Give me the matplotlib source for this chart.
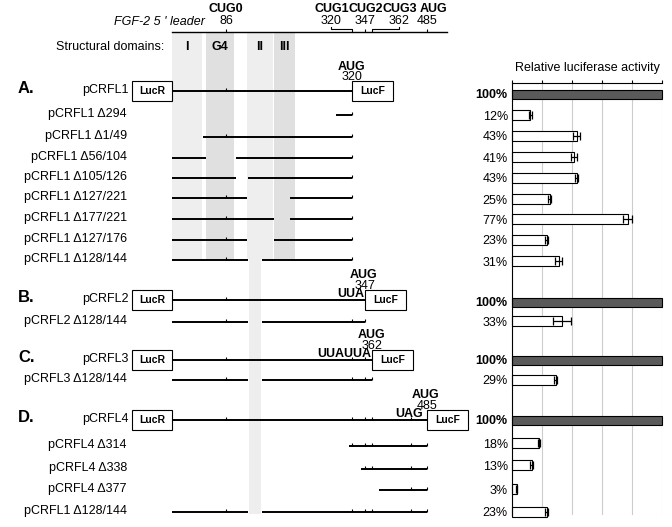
import numpy as np
import matplotlib.pyplot as plt

plt.rcParams['font.family'] = ['Liberation Sans', 'DejaVu Sans']

# nucleotide landmarks of the FGF-2 leader and where they fall on the (non-linear) schematic
nt_knots = [1, 86, 127, 145, 177, 222, 320, 347, 362, 485]
x_knots = [172, 226, 248, 262, 274, 290, 352, 365, 372, 427]


def xmap(nt):
    return np.interp(nt, nt_knots, x_knots)


# constructs (rows), top to bottom
names = ["pCRFL1", "pCRFL1 Δ294", "pCRFL1 Δ1/49", "pCRFL1 Δ56/104",
         "pCRFL1 Δ105/126", "pCRFL1 Δ127/221", "pCRFL1 Δ177/221",
         "pCRFL1 Δ127/176", "pCRFL1 Δ128/144",
         "pCRFL2", "pCRFL2 Δ128/144",
         "pCRFL3", "pCRFL3 Δ128/144",
         "pCRFL4", "pCRFL4 Δ314", "pCRFL4 Δ338", "pCRFL4 Δ377",
         "pCRFL1 Δ128/144"]
is_full = [True, False, False, False, False, False, False, False, False,
           True, False, True, False, True, False, False, False, False]
segments = [[(1, 320)], [(295, 320)], [(50, 320)], [(1, 55), (105, 320)],
            [(1, 104), (127, 320)], [(1, 126), (222, 320)], [(1, 176), (222, 320)],
            [(1, 126), (177, 320)], [(1, 127), (145, 320)],
            [(1, 347)], [(1, 127), (145, 347)],
            [(1, 362)], [(1, 127), (145, 362)],
            [(1, 485)], [(315, 485)], [(339, 485)], [(378, 485)],
            [(1, 127), (145, 485)]]
ticks = [[86], [], [86], [], [], [86], [86], [86], [86],
         [86], [86, 320],
         [86, 320, 347], [86, 320, 347],
         [86, 320, 347, 362, 450], [320, 347, 362, 450], [347, 362, 450], [450],
         [86, 320, 347, 362, 450]]
activity = [100, 12, 43, 41, 43, 25, 77, 23, 31,
            100, 33, 100, 29, 100, 18, 13, 3, 23]
errors = [0, 1, 2.5, 2, 1, 1, 3, 1, 2.5,
          0, 6, 0, 1, 0, 0.7, 0.7, 0.4, 1]

# structural domains (nt ranges)
domains = ["I", "G4", "II", "III"]
domain_nt = [(1, 48), (54, 101), (125, 174), (177, 230)]
domain_col = ['#eeeeee', '#e0e0e0', '#eeeeee', '#e0e0e0']
stem_loop_del = (128, 144)

# ruler codons
ruler_codons = ["CUG1", "CUG2", "CUG3", "AUG"]
ruler_nt = [320, 347, 362, 485]
ruler_label_x = [331, 365, 399, 427]

# start codon annotations on the full reporters: (row, nt, upstream codon)
starts = [(0, 320, ""), (9, 347, "UUA"), (11, 362, "UUAUUA"), (13, 485, "UAG")]
panel_letters = ["A.", "B.", "C.", "D."]
panel_rows = [0, 9, 11, 13]

# layout (pixel rows)
row_y = [91, 115, 137, 158, 178, 198, 219, 240, 260,
         300, 322, 360, 380, 420, 446, 469, 490, 512]
bar_y = [94, 115, 136, 157, 178, 199, 219, 240, 261,
         302, 321, 360, 380, 420, 443, 465, 489, 512]

fig = plt.figure(figsize=(6.72, 5.27), dpi=100)
ax = fig.add_axes([0, 0, 1, 1])
ax.set_xlim(0, 672)
ax.set_ylim(527, 0)
ax.axis('off')

# shaded domains
for (a, b), c in zip(domain_nt, domain_col):
    ax.fill_betweenx([32, 259], xmap(a), xmap(b), color=c, lw=0, zorder=0)
ax.fill_betweenx([259, 514], xmap(stem_loop_del[0]), xmap(stem_loop_del[1]),
                 color='#eeeeee', lw=0, zorder=0)
for name, (a, b) in zip(domains, domain_nt):
    ax.text((xmap(a) + xmap(b)) / 2, 47, name, ha='center', va='center',
            fontsize=9, fontweight='bold')
ax.text(164, 47, "Structural domains:", ha='right', va='center', fontsize=9)

# top ruler
ax.plot([172, 447], [32, 32], color='k', lw=1)
ax.text(205, 22, "FGF-2 5 ' leader", ha='right', va='center', fontsize=9,
        style='italic')
ax.vlines(xmap(86), 29, 32, color='k', lw=0.8)
ax.text(xmap(86), 9.5, "CUG0", ha='center', va='center', fontsize=9,
        fontweight='bold')
ax.text(xmap(86), 21, "86", ha='center', va='center', fontsize=9)
for lab, nt, lx in zip(ruler_codons, ruler_nt, ruler_label_x):
    x = xmap(nt)
    if abs(lx - x) > 2:
        ax.plot([lx, lx, x, x], [26.5, 29, 29, 32], color='k', lw=0.8)
    else:
        ax.vlines(x, 29, 32, color='k', lw=0.8)
    ax.text(lx + (6 if lab == "AUG" else 1), 9.5, lab, ha='center', va='center',
            fontsize=9, fontweight='bold')
    ax.text(lx, 21, str(nt), ha='center', va='center', fontsize=9)

# construct rows
for i, name in enumerate(names):
    y = row_y[i]
    for a, b in segments[i]:
        ax.plot([xmap(a), xmap(b)], [y, y], color='k', lw=1.4,
                solid_capstyle='butt')
    for t in ticks[i]:
        ax.vlines(xmap(t), y - 3.5, y, color='k', lw=0.8)
    end = xmap(segments[i][-1][1])
    if is_full[i]:
        ax.add_patch(plt.Rectangle((132, y - 10), 40, 20, fc='white', ec='k', lw=0.8))
        ax.text(152, y, "LucR", ha='center', va='center', fontsize=7.5,
                fontweight='bold')
        ax.add_patch(plt.Rectangle((end, y - 10), 41, 20, fc='white', ec='k', lw=0.8))
        ax.text(end + 20.5, y, "LucF", ha='center', va='center', fontsize=7.5,
                fontweight='bold')
        ax.text(129, y - 1, name, ha='right', va='center', fontsize=9)
    else:
        ax.vlines(end, y - 3.5, y, color='k', lw=0.8)
        ax.text(127, y - 1, name, ha='right', va='center', fontsize=9)

for letter, r in zip(panel_letters, panel_rows):
    ax.text(18, row_y[r] - 2.5, letter, ha='left', va='center', fontsize=12,
            fontweight='bold')

for r, nt, up in starts:
    x = xmap(nt)
    y = row_y[r]
    ax.text(x - 1, y - 24.5, "AUG", ha='center', va='center', fontsize=9,
            fontweight='bold')
    ax.text(x, y - 14, str(nt), ha='center', va='center', fontsize=9)
    if up:
        ax.text(x - (4 if up == "UAG" else 1), y - 6, up, ha='right', va='center',
                fontsize=9, fontweight='bold')

# relative luciferase activity bars
ax2 = fig.add_axes([512 / 672, (527 - 515) / 527, 150 / 672, (515 - 83) / 527])
ax2.set_xlim(0, 100)
ax2.set_ylim(515, 83)
for s in ['bottom', 'right']:
    ax2.spines[s].set_visible(False)
ax2.spines['top'].set_linewidth(0.8)
ax2.spines['left'].set_linewidth(0.8)
ax2.xaxis.tick_top()
ax2.set_xticks([0, 20, 40, 60, 80, 100])
ax2.tick_params(axis='x', direction='out', length=2.5, width=0.8, labeltop=False)
ax2.grid(axis='x', color='#cccccc', lw=0.8)
ax2.set_axisbelow(True)
ax2.patch.set_alpha(0)

colors = ['#5a5a5a' if f else 'white' for f in is_full]
heights = [9 if f else 10 for f in is_full]
bars = ax2.barh(bar_y, activity, height=heights, color=colors, edgecolor='k', lw=0.8)
for b in bars:
    b.set_clip_on(False)
sub = [i for i, f in enumerate(is_full) if not f]
eb = ax2.errorbar([activity[i] for i in sub], [bar_y[i] for i in sub],
                  xerr=[errors[i] for i in sub], fmt='none', ecolor='k',
                  elinewidth=0.9, capsize=3, capthick=0.9)
for artist in eb.lines[1] + eb.lines[2]:
    artist.set_clip_on(False)
ax2.set_yticks(bar_y)
ax2.set_yticklabels([f"{v}%" for v in activity], fontsize=9)
for lab, f in zip(ax2.get_yticklabels(), is_full):
    if f:
        lab.set_fontweight('bold')
ax2.tick_params(axis='y', length=0, pad=3)
fig.text(587 / 672, 1 - 68 / 527, "Relative luciferase activity", ha='center',
         va='center', fontsize=9)

fig.savefig('out.png', dpi=100)
